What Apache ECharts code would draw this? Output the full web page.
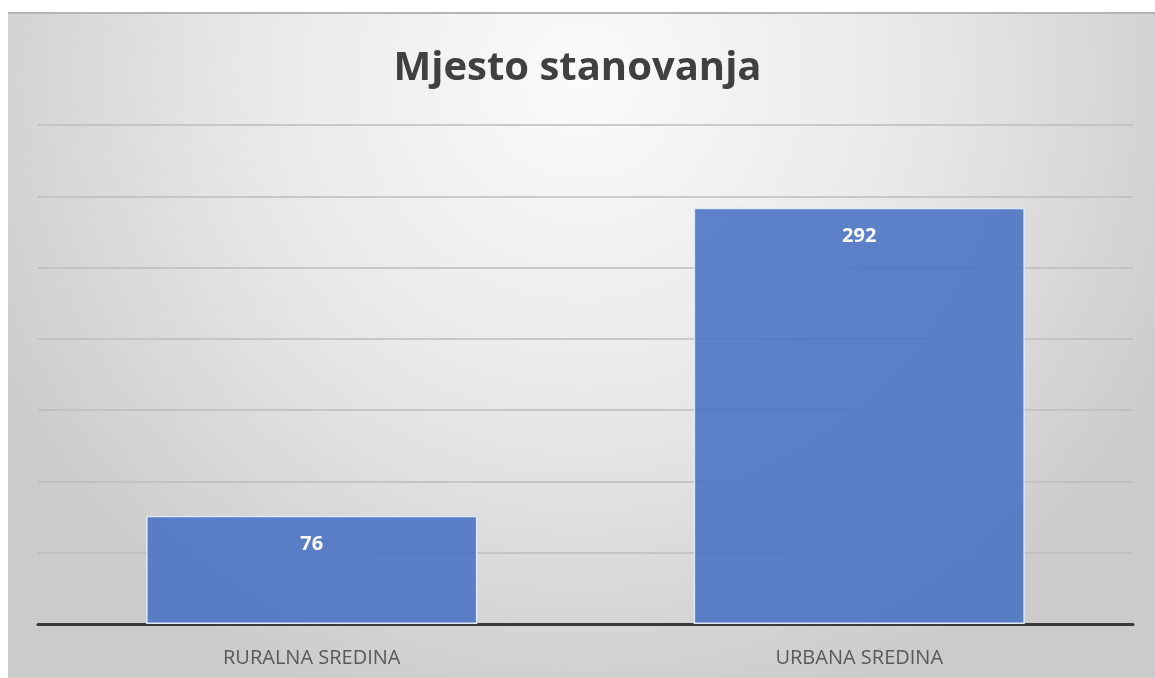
<!DOCTYPE html>
<html>
<head>
<meta charset="utf-8">
<script src="https://cdn.jsdelivr.net/npm/echarts@6/dist/echarts.min.js"></script>
<style>
html,body{margin:0;padding:0;background:#fff;}
#c{width:1155px;height:678px;}
</style>
</head>
<body>
<div id="c"></div>
<script>
const titleText = "Mjesto stanovanja";
const categories = ["RURALNA SREDINA", "URBANA SREDINA"];
const values = [76, 292];
const yMin = 0, yMax = 350, yInterval = 50;

const chart = echarts.init(document.getElementById('c'), null, {renderer: 'canvas'});
chart.setOption({
  backgroundColor: '#ffffff',
  animation: false,
  graphic: [
    {
      type: 'rect', z: -10, silent: true,
      shape: {x: 8, y: 12, width: 1147, height: 666},
      style: {
        fill: {
          type: 'radial', x: 0.5, y: 0.1, r: 1.0,
          colorStops: [
            {offset: 0, color: '#fbfbfb'},
            {offset: 0.5, color: '#e8e8e8'},
            {offset: 1, color: '#cbcbcb'}
          ]
        }
      }
    },
    {
      type: 'line', z: -9, silent: true,
      shape: {x1: 8, y1: 13, x2: 1155, y2: 13},
      style: {stroke: '#b5b5b5', lineWidth: 2}
    }
  ],
  title: {
    text: titleText,
    left: 'center',
    top: 44,
    textStyle: {fontFamily: 'Open Sans', fontWeight: 'bold', fontSize: 40, color: '#404040'}
  },
  grid: {left: 38, right: 22, top: 125, bottom: 54, containLabel: false},
  xAxis: {
    type: 'category',
    data: categories,
    axisLine: {lineStyle: {color: '#3a3a3a', width: 3}},
    axisTick: {show: false},
    axisLabel: {color: '#595959', fontFamily: 'Open Sans', fontSize: 20, margin: 24}
  },
  yAxis: {
    type: 'value',
    min: yMin, max: yMax, interval: yInterval,
    axisLine: {show: false},
    axisTick: {show: false},
    axisLabel: {show: false},
    splitLine: {lineStyle: {color: '#bdbdbd', width: 1.5}}
  },
  series: [{
    type: 'bar',
    data: values,
    barWidth: '60.5%',
    z: 3,
    itemStyle: {color: 'rgba(72,114,196,0.88)', borderColor: '#dfe8f7', borderWidth: 1.5},
    label: {
      show: true, position: 'insideTop', distance: 19,
      color: '#ffffff', fontFamily: 'Open Sans', fontWeight: 'bold', fontSize: 20
    }
  }]
});
</script>
</body>
</html>
